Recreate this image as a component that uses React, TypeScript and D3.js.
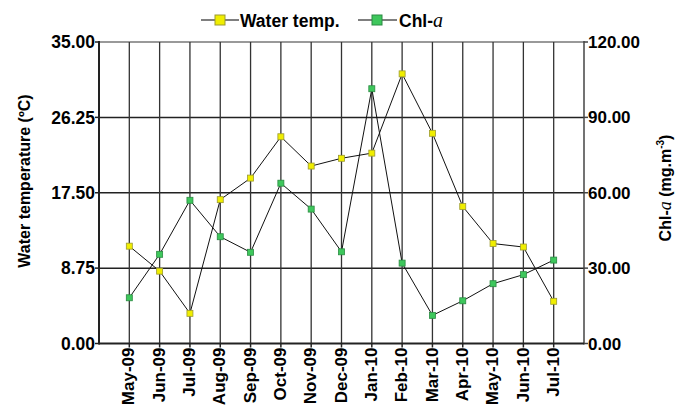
import * as d3 from "d3";

const months = [
  "May-09", "Jun-09", "Jul-09", "Aug-09", "Sep-09", "Oct-09", "Nov-09", "Dec-09",
  "Jan-10", "Feb-10", "Mar-10", "Apr-10", "May-10", "Jun-10", "Jul-10",
];
const waterTemp = [11.3, 8.4, 3.5, 16.7, 19.2, 24.0, 20.6, 21.5, 22.1, 31.3, 24.4, 15.9, 11.6, 11.2, 4.9];
const chlA = [18.2, 35.5, 57.0, 42.5, 36.3, 63.8, 53.5, 36.5, 101.4, 32.0, 11.2, 17.0, 23.8, 27.4, 33.2];
const leftTicks = [0, 8.75, 17.5, 26.25, 35];
const rightTicks = [0, 30, 60, 90, 120];

const W = 686;
const H = 409;
const m = { left: 99, right: 584, top: 42, bottom: 343.5 };
const font = "'Liberation Sans', Arial, sans-serif";

const YELLOW = "#f0ee00";
const YELLOW_S = "#9c9a30";
const GREEN = "#3ec75c";
const GREEN_S = "#2b8a42";

export default function App() {
  const x = d3.scaleLinear().domain([0, months.length + 1]).range([m.left, m.right]);
  const yL = d3.scaleLinear().domain([0, 35]).range([m.bottom, m.top]);
  const yR = d3.scaleLinear().domain([0, 120]).range([m.bottom, m.top]);

  const tempLine = d3.line<number>().x((_, i) => x(i + 1)).y((d) => yL(d));
  const chlLine = d3.line<number>().x((_, i) => x(i + 1)).y((d) => yR(d));

  const sq = 6;

  return (
    <svg width={W} height={H} style={{ position: "absolute", left: 0, top: 0, background: "#fff" }} fontFamily={font}>
      {/* legend */}
      <g fontSize={17.5} fontWeight="bold">
        <line x1={201} x2={239} y1={20} y2={20} stroke="#000" strokeWidth={1.2} />
        <rect x={215} y={15} width={10} height={10} fill={YELLOW} stroke={YELLOW_S} />
        <text x={240} y={26.5}>Water temp.</text>
        <line x1={358} x2={397} y1={20} y2={20} stroke="#000" strokeWidth={1.2} />
        <rect x={372} y={15} width={10} height={10} fill={GREEN} stroke={GREEN_S} />
        <text x={399} y={26.5}>
          Chl-<tspan fontFamily="'Liberation Serif', 'Times New Roman', serif" fontStyle="italic" fontWeight="normal" fontSize={20}>a</tspan>
        </text>
      </g>

      {/* horizontal grid */}
      {leftTicks.slice(1).map((t) => (
        <line key={t} x1={m.left} x2={m.right} y1={yL(t)} y2={yL(t)} stroke={t === 35 ? "#777" : "#222"} strokeWidth={1.5} />
      ))}
      {/* vertical grid */}
      {months.map((mo, i) => (
        <line key={mo} x1={x(i + 1)} x2={x(i + 1)} y1={m.top} y2={m.bottom} stroke="#333" strokeWidth={1.3} />
      ))}

      {/* axes */}
      <line x1={m.left} x2={m.left} y1={m.top - 1} y2={m.bottom + 1} stroke="#222" strokeWidth={2} />
      <line x1={m.right} x2={m.right} y1={m.top - 1} y2={m.bottom + 1} stroke="#444" strokeWidth={1.5} />
      <line x1={m.left} x2={m.right} y1={m.bottom} y2={m.bottom} stroke="#222" strokeWidth={2} />

      {/* left ticks */}
      <g fontSize={17.5} fontWeight="bold" textAnchor="end">
        {leftTicks.map((t) => (
          <g key={t}>
            <line x1={m.left - 4} x2={m.left} y1={yL(t)} y2={yL(t)} stroke="#222" strokeWidth={1.5} />
            <text x={m.left - 4} y={yL(t)} dy="0.36em">{t.toFixed(2)}</text>
          </g>
        ))}
      </g>
      {/* right ticks */}
      <g fontSize={17} fontWeight="bold" textAnchor="start">
        {rightTicks.map((t) => (
          <g key={t}>
            <line x1={m.right} x2={m.right + 4} y1={yR(t)} y2={yR(t)} stroke="#444" strokeWidth={1.5} />
            <text x={m.right + 4} y={yR(t)} dy="0.36em">{t.toFixed(2)}</text>
          </g>
        ))}
      </g>
      {/* x ticks */}
      <g fontSize={17} fontWeight="bold" textAnchor="end">
        {months.map((mo, i) => (
          <g key={mo} transform={`translate(${x(i + 1)},${m.bottom})`}>
            <line y1={0} y2={4} stroke="#222" strokeWidth={1.5} />
            <text transform="rotate(-90)" x={-4} y={-1} dy="0.36em">{mo}</text>
          </g>
        ))}
      </g>

      {/* axis titles */}
      <text transform="translate(30,181) rotate(-90)" textAnchor="middle" fontSize={16} fontWeight="bold">
        Water temperature (ºC)
      </text>
      <text transform="translate(671,188) rotate(-90)" textAnchor="middle" fontSize={16} fontWeight="bold">
        Chl-<tspan fontFamily="'Liberation Serif', 'Times New Roman', serif" fontStyle="italic" fontWeight="normal" fontSize={18}>a</tspan> (mg.m<tspan fontSize={10} dy={-7}>-3</tspan><tspan dy={7}>)</tspan>
      </text>

      {/* series */}
      <path d={tempLine(waterTemp) ?? ""} fill="none" stroke="#111" strokeWidth={1} />
      <path d={chlLine(chlA) ?? ""} fill="none" stroke="#111" strokeWidth={1} />
      {waterTemp.map((v, i) => (
        <rect key={"t" + i} x={x(i + 1) - sq / 2} y={yL(v) - sq / 2} width={sq} height={sq} fill={YELLOW} stroke={YELLOW_S} strokeWidth={0.8} />
      ))}
      {chlA.map((v, i) => (
        <rect key={"c" + i} x={x(i + 1) - sq / 2} y={yR(v) - sq / 2} width={sq} height={sq} fill={GREEN} stroke={GREEN_S} strokeWidth={0.8} />
      ))}
    </svg>
  );
}
